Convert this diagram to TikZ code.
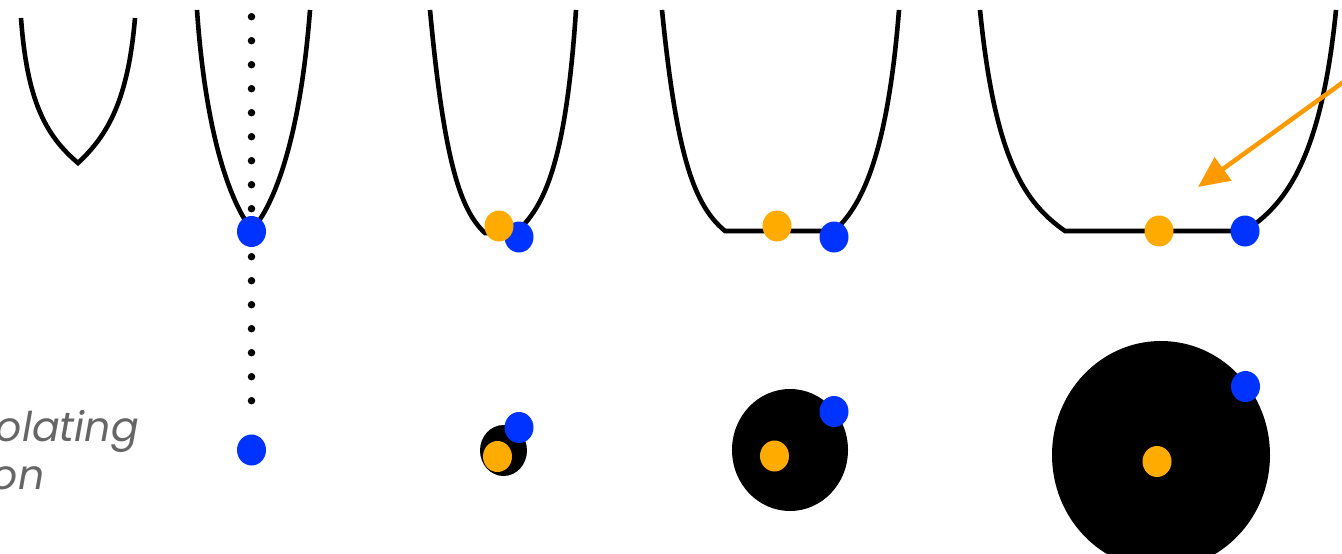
\documentclass[tikz,border=0pt]{standalone}
\usepackage{fontspec}
\newfontfamily\lblfont{Poppins}
\usetikzlibrary{arrows.meta,shapes.geometric}
\definecolor{dotblue}{HTML}{0033FF}
\definecolor{dotorange}{HTML}{FFAB00}
\definecolor{arroworange}{HTML}{FF9900}
\definecolor{lblgray}{HTML}{666666}
\begin{document}
\begin{tikzpicture}[x=1pt,y=-1pt,
  curve/.style={line width=4.6pt},
  bdot/.style={ellipse, fill=dotblue, minimum width=29pt, minimum height=31pt, inner sep=0pt},
  odot/.style={ellipse, fill=dotorange, minimum width=29pt, minimum height=31pt, inner sep=0pt},
  disk/.style={ellipse, fill=black, inner sep=0pt},
  dotline/.style={line width=7.5pt, line cap=round, dash pattern=on 0pt off 24pt},
  pointer/.style={draw=arroworange, line width=4.5pt, -{Triangle[length=31pt,width=28pt]}},
  lbl/.style={font=\lblfont\itshape\fontsize{41}{48}\selectfont, text=lblgray, inner sep=0pt}
]
\useasboundingbox (0,0) rectangle (1342,554);
\clip (0,0) rectangle (1342,554);

% label (clipped at left edge)
\node[lbl, anchor=base east] (t1) at (139,441) {Interpolating};
\node[lbl, anchor=base west] (t2) at ([yshift=-48pt]t1.base west) {function};

% potential wells
\draw[curve] (21,18) .. controls (27,100) and (45,135) .. (78,163) .. controls (108,135) and (128,100) .. (135,18);
\draw[curve] (197,10) .. controls (206,140) and (232,205) .. (252,230) .. controls (274,205) and (300,140) .. (310,10);
\draw[curve] (430,10) .. controls (444,160) and (460,210) .. (485,233) -- (515,233) .. controls (545,208) and (566,160) .. (576,10);
\draw[curve] (662,10) .. controls (677,160) and (695,206) .. (725,231) -- (834,231) .. controls (860,208) and (887,160) .. (899,10);
\draw[curve] (980,10) .. controls (995,160) and (1025,203) .. (1065,231) -- (1245,231) .. controls (1285,205) and (1321,160) .. (1336,10);

% dotted vertical line
\coordinate (dtop) at (251.5,16.7);
\coordinate (dbot) at (251.5,401);
\draw[dotline] (dtop) -- (dbot);

% black disks
\node[disk, minimum width=47pt, minimum height=51pt] (d3) at (503.5,450.5) {};
\node[disk, minimum width=116pt, minimum height=122pt] (d4) at (790,450) {};
\node[disk, minimum width=218pt, minimum height=228pt] (d5) at (1161,455) {};

% top dots
\node[bdot] (b2) at (251.5,231.5) {};
\node[bdot] (b3) at (519,237) {};
\node[odot] (o3) at (499,226) {};
\node[odot] (o4) at (777,226) {};
\node[bdot] (b4) at (834,237) {};
\node[odot] (o5) at (1159,231) {};
\node[bdot] (b5) at (1245,231) {};

% bottom dots
\node[bdot] (bb2) at (251.5,450) {};
\node[odot] (bo3) at (497.5,456.5) {};
\node[bdot] (bb3) at (519,427.5) {};
\node[odot] (bo4) at (774.5,456) {};
\node[bdot] (bb4) at (834,411.5) {};
\node[odot] (bo5) at (1157,461.5) {};
\node[bdot] (bb5) at (1245.5,386.5) {};

% orange pointer
\coordinate (astart) at (1350,77.2);
\coordinate (atip) at (1198,187);
\draw[pointer] (astart) -- (atip);
\end{tikzpicture}
\end{document}
